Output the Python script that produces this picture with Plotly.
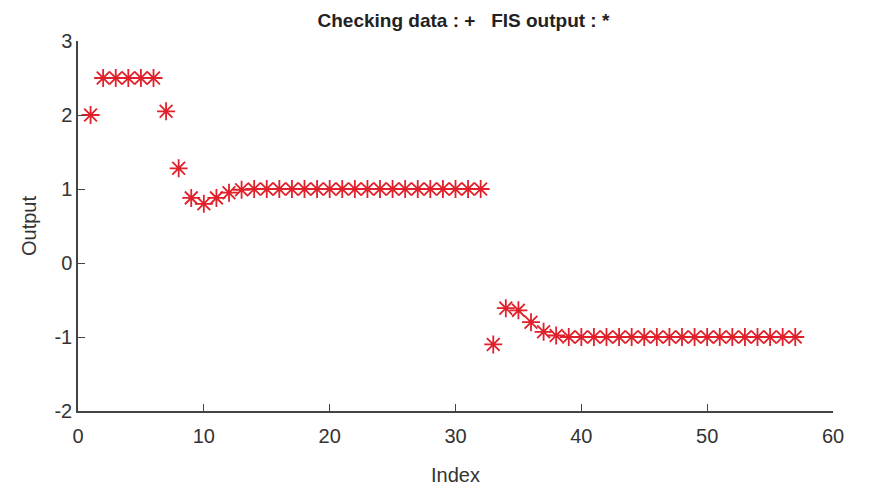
import plotly.graph_objects as go

index = list(range(1, 58))
fis_output = [2.0, 2.5, 2.5, 2.5, 2.5, 2.5, 2.05, 1.28, 0.88, 0.8,
              0.88, 0.95, 0.99] + [1.0] * 19 + \
             [-1.1, -0.61, -0.64, -0.8, -0.93, -0.98] + [-1.0] * 19
x_ticks = [0, 10, 20, 30, 40, 50, 60]
y_ticks = [-2, -1, 0, 1, 2, 3]
y_tick_text = ["-2", "-1", "0", "1", "2", "3"]

font_family = "Liberation Sans, Arial, sans-serif"

fig = go.Figure()
fig.add_trace(go.Scatter(
    x=index, y=fis_output, mode="markers",
    marker=dict(symbol="asterisk-open", size=15, color="#e0202a",
                line=dict(color="#e0202a", width=1.8)),
    showlegend=False,
))

axis_common = dict(
    showgrid=False, zeroline=False, showline=True, linecolor="#444444",
    linewidth=1.5, ticks="inside", ticklen=7, tickwidth=1.3, tickcolor="#444444",
    tickfont=dict(family=font_family, size=20, color="#333333"),
    mirror=False, automargin=False,
)

fig.update_layout(
    width=893, height=489,
    margin=dict(l=70, r=68, t=33, b=86),
    paper_bgcolor="white", plot_bgcolor="white",
    title=dict(text="<b>Checking data : +   FIS output : *</b>", x=0.51, xanchor="center",
               yref="container", y=0.975, yanchor="middle",
               font=dict(family=font_family, size=19, color="#222222")),
    xaxis=dict(range=[0, 60], tickvals=x_ticks, ticklabelstandoff=6,
               title=dict(text="Index", font=dict(family=font_family, size=20, color="#333333"), standoff=22),
               **axis_common),
    yaxis=dict(range=[-2, 3], tickvals=y_ticks, ticktext=y_tick_text,
               title=dict(text="Output", font=dict(family=font_family, size=20, color="#333333"), standoff=12),
               **axis_common),
)

fig.write_html("out.html")
